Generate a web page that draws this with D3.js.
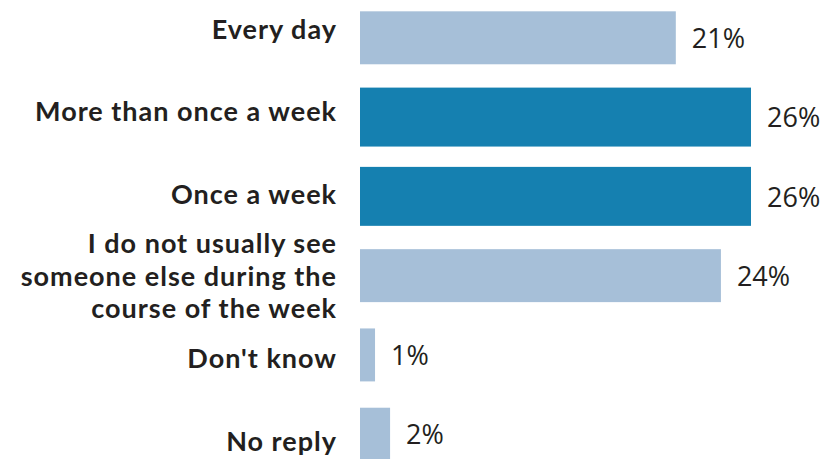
<!DOCTYPE html>
<html lang="en">
  <head>
    <meta charset="UTF-8" />
    <title>How often do you see someone else</title>
    <style>
      body { margin: 0; background: #fff; }
      .cat { font-family: Lato, "Open Sans", sans-serif; font-weight: 700; fill: #231f20; letter-spacing: 1px; }
      .val { font-family: "Open Sans", sans-serif; font-weight: 400; fill: #231f20; }
    </style>
  </head>
  <body>
    <div class="chart"></div>
    <script src="https://d3js.org/d3.v7.min.js"></script>
    <script>
      // 資料
      const categories = [
        "Every day",
        "More than once a week",
        "Once a week",
        "I do not usually see\nsomeone else during the\ncourse of the week",
        "Don't know",
        "No reply"
      ];
      const values = [21, 26, 26, 24, 1, 2];
      const highlighted = ["More than once a week", "Once a week"];

      const svgWidth = 823,
        svgHeight = 459;

      const svg = d3.select('.chart')
                    .append('svg')
                    .attr('width', svgWidth)
                    .attr('height', svgHeight);

      const data = categories.map((c, i) => ({ cat: c, value: values[i] }));

      // X 比例尺
      const xScale = d3.scaleLinear()
                       .domain([0, 26])
                       .range([360, 751]);

      // Y 比例尺 (長條)
      const yScale = d3.scaleBand()
                       .domain(categories)
                       .range([-15, 487])
                       .padding(0.332);

      // Y 比例尺 (文字標籤)
      const yLabel = d3.scalePoint()
                       .domain(categories)
                       .range([29, 441]);

      const grow = 3; // highlighted bars are a bit taller

      svg.selectAll("rect")
         .data(data)
         .join("rect")
         .attr("x", xScale(0))
         .attr("y", d => yScale(d.cat) - (highlighted.includes(d.cat) ? grow : 0))
         .attr("width", d => xScale(d.value) - xScale(0))
         .attr("height", d => yScale.bandwidth() + (highlighted.includes(d.cat) ? grow * 2 : 0))
         .attr("fill", d => highlighted.includes(d.cat) ? "#1580b0" : "#a6bfd8");

      // 數值標籤
      svg.selectAll(".val")
         .data(data)
         .join("text")
         .attr("class", "val")
         .attr("x", d => xScale(d.value) + 16)
         .attr("y", d => yScale(d.cat) + yScale.bandwidth() / 2)
         .attr("dy", "0.38em")
         .style("font-size", "27px")
         .text(d => d.value + "%");

      // 類別標籤
      const lineH = 32.5;
      const cat = svg.selectAll(".cat")
         .data(data)
         .join("text")
         .attr("class", "cat")
         .attr("text-anchor", "end")
         .style("font-size", "27px")
         .attr("transform", d => `translate(337,${yLabel(d.cat)})`);

      cat.selectAll("tspan")
         .data(d => {
           const lines = d.cat.split("\n");
           return lines.map((l, i) => ({ text: l, off: (i - (lines.length - 1) / 2) * lineH }));
         })
         .join("tspan")
         .attr("x", 0)
         .attr("y", d => d.off)
         .attr("dy", "0.36em")
         .text(d => d.text);
    </script>
  </body>
</html>
